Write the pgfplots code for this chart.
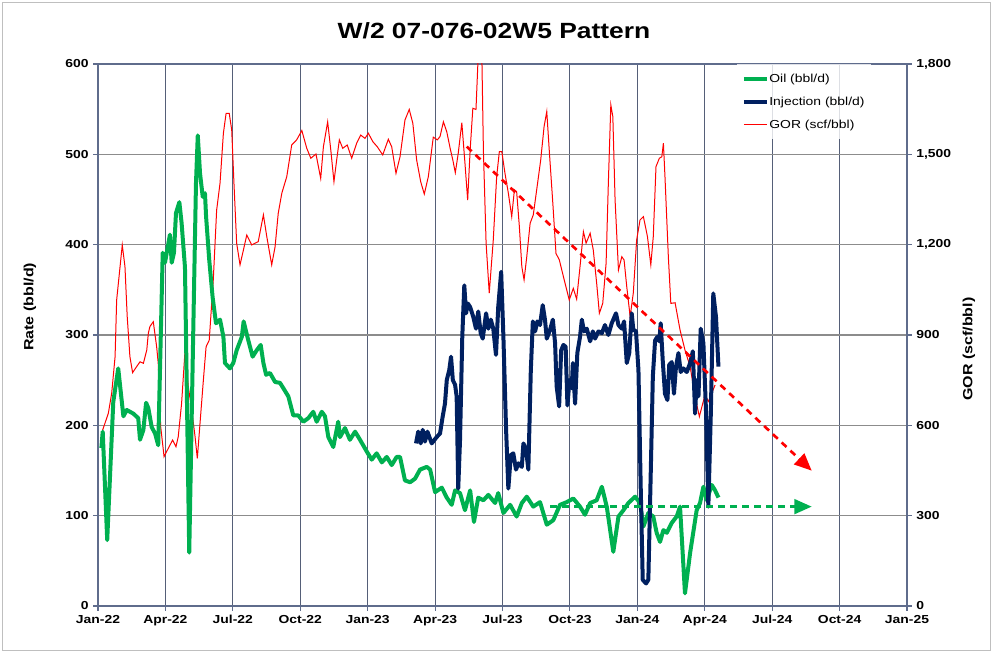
\documentclass[border=0pt]{standalone}
\usepackage{fontspec}
\setmainfont{Liberation Sans}[FakeStretch=1.2]
\usepackage{pgfplots}
\pgfplotsset{compat=1.18}
\usetikzlibrary{arrows.meta}
\definecolor{oilgreen}{RGB}{0,176,80}
\definecolor{injnavy}{RGB}{0,32,96}
\definecolor{gridv}{RGB}{85,95,120}
\definecolor{gridh}{RGB}{140,140,140}
\definecolor{axisc}{RGB}{95,108,140}
\definecolor{framec}{RGB}{191,191,191}
\begin{document}
\begin{tikzpicture}
\path[use as bounding box] (0pt,0pt) rectangle (744.75pt,489.75pt);
\draw[framec, line width=1.2pt] (2pt,2pt) rectangle (742.75pt,487.75pt);
% ---------- right axis: GOR ----------
\begin{axis}[
 at={(73.5pt,35.25pt)}, anchor=south west,
 scale only axis, width=606.75pt, height=406.5pt,
 xmin=0, xmax=36, ymin=0, ymax=1800,
 xtick={0,3,...,36},
 xticklabels={Jan-22,Apr-22,Jul-22,Oct-22,Jan-23,Apr-23,Jul-23,Oct-23,Jan-24,Apr-24,Jul-24,Oct-24,Jan-25},
 ytick={0,300,...,1800},
 xtick pos=bottom, ytick pos=right, yticklabel pos=right,
 tick align=outside, major tick length=3.5pt,
 grid=major,
 x grid style={color=gridv, line width=0.8pt},
 y grid style={color=gridh, line width=0.8pt},
 separate axis lines,
 x axis line style={color=axisc, line width=0.8pt},
 y axis line style={color=axisc, line width=1.5pt},
 tick style={color=axisc, line width=0.8pt},
 tick label style={font=\fontsize{8.7}{10}\selectfont\bfseries, black},
 /pgf/number format/assume math mode=true,
 /pgf/number format/1000 sep={,},
 ylabel={GOR (scf/bbl)},
 ylabel style={at={(axis description cs:1.0766,0.474)}, anchor=center, font=\fontsize{10}{12}\selectfont\bfseries},
 title={W/2 07-076-02W5 Pattern},
 every axis title shift=0pt,
 title style={at={(axis description cs:0.4895,1.061)}, anchor=center, font=\fontsize{16.5}{20}\selectfont\bfseries},
]
\addplot[red, line width=0.75pt] coordinates {
(0.15,560)(0.21,585)(0.46,640)(0.61,707)(0.76,828)(0.83,1016)(1.08,1199)(1.20,1127)(1.30,961)(1.42,828)
(1.54,775)(1.72,795)(1.87,811)(2.02,806)(2.17,850)(2.24,906)(2.31,928)(2.46,944)(2.61,861)(2.68,806)
(2.79,595)(2.94,496)(3.13,524)(3.32,551)(3.47,529)(3.57,562)(3.72,673)(3.87,845)(4.02,728)(4.17,651)
(4.32,562)(4.42,490)(4.54,607)(4.69,751)(4.81,861)(4.95,883)(5.13,1083)(5.28,1315)(5.43,1404)(5.58,1570)
(5.70,1636)(5.84,1636)(5.95,1581)(6.05,1404)(6.17,1205)(6.32,1133)(6.47,1182)(6.62,1232)(6.84,1199)(7.13,1210)
(7.36,1299)(7.51,1227)(7.73,1133)(7.88,1193)(8.02,1304)(8.18,1371)(8.40,1426)(8.62,1531)(8.84,1548)(9.07,1579)
(9.29,1520)(9.47,1487)(9.70,1501)(9.91,1420)(10.03,1525)(10.22,1608)(10.36,1514)(10.50,1409)(10.62,1481)(10.74,1548)
(10.89,1520)(11.09,1531)(11.29,1487)(11.51,1537)(11.69,1564)(11.88,1553)(12.03,1570)(12.23,1542)(12.43,1525)(12.67,1498)
(12.92,1550)(13.07,1525)(13.26,1437)(13.44,1492)(13.66,1614)(13.85,1649)(14.01,1603)(14.18,1481)(14.36,1409)(14.52,1368)
(14.70,1426)(14.92,1557)(15.10,1548)(15.22,1559)(15.37,1608)(15.52,1575)(15.67,1520)(15.79,1481)(15.90,1439)(16.03,1503)
(16.19,1605)(16.33,1470)(16.45,1348)(16.56,1514)(16.68,1653)(16.82,1649)(16.92,1830)(17.08,1830)(17.15,1514)(17.27,1205)
(17.41,1039)(17.59,1216)(17.74,1426)(17.86,1509)(17.97,1509)(18.11,1437)(18.26,1371)(18.41,1293)(18.53,1382)(18.63,1376)
(18.75,1260)(18.86,1127)(18.96,1083)(19.08,1160)(19.23,1271)(19.37,1299)(19.57,1409)(19.70,1481)(19.85,1592)(19.97,1642)
(20.08,1514)(20.24,1337)(20.38,1171)(20.53,1149)(20.71,1094)(20.97,1016)(21.15,1055)(21.30,1019)(21.45,1127)(21.60,1243)
(21.72,1205)(21.90,1238)(22.04,1182)(22.19,1072)(22.31,972)(22.46,1005)(22.61,1138)(22.71,1404)(22.82,1664)(22.91,1625)
(23.01,1348)(23.16,1116)(23.31,1160)(23.41,1149)(23.53,1060)(23.68,961)(23.82,1039)(23.97,1216)(24.12,1282)(24.27,1293)
(24.45,1227)(24.60,1133)(24.71,1227)(24.83,1459)(24.98,1487)(25.09,1492)(25.16,1537)(25.23,1426)(25.38,1160)(25.49,1005)
(25.68,1007)(25.90,917)(26.12,850)(26.35,795)(26.57,695)(26.76,629)(27.01,701)(27.16,679)(27.46,734)
};
\end{axis}
% ---------- left axis: rates ----------
\begin{axis}[
 at={(73.5pt,35.25pt)}, anchor=south west,
 scale only axis, width=606.75pt, height=406.5pt,
 xmin=0, xmax=36, ymin=0, ymax=600,
 axis x line=none, axis y line*=left,
 ytick={0,100,...,600},
 tick align=outside, major tick length=3.5pt,
 y axis line style={color=axisc, line width=1.5pt},
 tick style={color=axisc, line width=0.8pt},
 tick label style={font=\fontsize{8.7}{10}\selectfont\bfseries, black},
 /pgf/number format/assume math mode=true,
 ylabel={Rate (bbl/d)},
 ylabel style={at={(axis description cs:-0.084,0.552)}, anchor=center, font=\fontsize{10}{12}\selectfont\bfseries},
 legend style={at={(axis description cs:0.789,1)}, anchor=north west, draw=none, fill=white, fill opacity=0.8, text opacity=1,
   font=\fontsize{8.7}{10}\selectfont, row sep=5.5pt, inner xsep=4pt, inner ysep=5pt, cells={anchor=west},
   nodes={inner xsep=0.6pt}},
 legend image code/.code={\draw[#1] (0pt,0pt) -- (17pt,0pt);},
]
\addplot[oilgreen, line width=3pt, line join=round] coordinates {
(0.15,175)(0.21,193)(0.41,73)(0.68,226)(0.90,263)(1.13,210)(1.28,217)(1.57,213)(1.79,208)(1.87,184)
(2.02,195)(2.14,225)(2.24,219)(2.39,198)(2.54,191)(2.68,178)(2.88,391)(2.98,380)(3.08,394)(3.20,411)
(3.28,380)(3.38,391)(3.47,435)(3.62,447)(3.72,424)(3.87,375)(4.06,59)(4.24,306)(4.36,468)(4.44,521)
(4.54,479)(4.66,453)(4.76,457)(4.81,431)(4.95,383)(5.10,342)(5.25,313)(5.43,317)(5.58,298)(5.65,269)
(5.87,263)(6.02,269)(6.17,283)(6.40,298)(6.48,315)(6.69,294)(6.88,276)(7.06,283)(7.24,289)(7.36,269)
(7.48,256)(7.65,258)(7.88,248)(8.10,247)(8.25,241)(8.47,232)(8.69,211)(8.91,211)(9.14,204)(9.36,208)
(9.58,215)(9.73,204)(9.96,215)(10.10,210)(10.25,187)(10.47,176)(10.69,204)(10.77,187)(10.99,197)(11.21,184)
(11.44,193)(11.66,184)(11.96,171)(12.18,162)(12.40,169)(12.63,159)(12.85,165)(13.07,156)(13.29,165)(13.44,165)
(13.66,139)(13.89,137)(14.11,141)(14.33,151)(14.63,154)(14.78,151)(15.00,126)(15.30,131)(15.52,120)(15.74,112)
(15.89,128)(16.11,125)(16.33,106)(16.56,128)(16.73,93)(16.92,120)(17.15,117)(17.37,123)(17.67,114)(17.81,125)
(18.04,103)(18.34,112)(18.63,99)(18.86,114)(19.08,121)(19.37,110)(19.67,115)(19.97,90)(20.26,95)(20.56,112)
(20.86,115)(21.15,119)(21.45,110)(21.67,101)(21.90,114)(22.19,117)(22.42,132)(22.64,110)(22.93,60)(23.16,99)
(23.38,106)(23.60,114)(23.90,121)(24.12,114)(24.27,88)(24.49,103)(24.71,99)(24.86,81)(25.01,71)(25.16,84)
(25.31,81)(25.53,92)(25.75,99)(25.90,110)(26.12,14)(26.35,59)(26.64,106)(26.79,114)(26.94,132)(27.09,117)
(27.31,134)(27.46,128)(27.61,120)
};
\addlegendentry{Oil (bbl/d)}
\addplot[injnavy, line width=3pt, line join=round] coordinates {
(14.15,180)(14.25,193)(14.36,180)(14.45,195)(14.55,182)(14.66,193)(14.85,180)(15.07,187)(15.22,191)(15.34,210)
(15.44,224)(15.52,250)(15.63,261)(15.71,276)(15.79,250)(15.89,245)(15.96,232)(16.03,130)(16.11,184)(16.21,298)
(16.30,355)(16.38,324)(16.45,335)(16.56,331)(16.70,320)(16.82,307)(16.92,326)(17.03,302)(17.12,296)(17.27,324)
(17.37,307)(17.48,317)(17.59,307)(17.71,278)(17.81,331)(17.94,370)(18.04,298)(18.16,195)(18.26,130)(18.37,167)
(18.48,169)(18.60,151)(18.71,158)(18.86,154)(18.93,180)(19.05,173)(19.15,151)(19.26,261)(19.35,315)(19.45,304)
(19.55,315)(19.67,311)(19.79,333)(19.89,317)(19.97,296)(20.12,306)(20.24,317)(20.34,291)(20.41,243)(20.52,221)
(20.61,283)(20.71,289)(20.81,287)(20.89,222)(20.98,250)(21.08,241)(21.13,269)(21.23,224)(21.33,280)(21.45,298)
(21.53,317)(21.63,304)(21.75,307)(21.90,293)(22.02,304)(22.12,296)(22.27,304)(22.42,302)(22.56,311)(22.71,300)
(22.86,313)(23.05,324)(23.16,311)(23.31,307)(23.41,315)(23.53,269)(23.64,280)(23.75,324)(23.82,306)(23.94,304)
(24.05,261)(24.15,132)(24.24,29)(24.39,25)(24.49,29)(24.60,151)(24.69,254)(24.79,294)(24.89,298)(24.98,293)
(25.04,313)(25.13,272)(25.23,235)(25.34,228)(25.42,267)(25.53,270)(25.63,235)(25.72,265)(25.83,280)(25.93,259)
(26.05,263)(26.20,259)(26.35,269)(26.47,282)(26.57,213)(26.64,250)(26.72,232)(26.82,307)(26.94,291)(27.06,213)
(27.16,110)(27.27,213)(27.38,346)(27.50,320)(27.61,265)
};
\addlegendentry{Injection (bbl/d)}
\addplot[forget plot, red, line width=2pt, dash pattern=on 5pt off 4pt, -{Triangle[length=13pt,width=11pt]}]
 coordinates {(16.41,508.5)(31.76,149.8)};
\addplot[forget plot, oilgreen, line width=2pt, dash pattern=on 5pt off 4pt, -{Triangle[length=13pt,width=11pt]}]
 coordinates {(20.12,110)(31.76,110)};
\addlegendimage{red, line width=0.75pt}
\addlegendentry{GOR (scf/bbl)}
\end{axis}
\end{tikzpicture}
\end{document}
